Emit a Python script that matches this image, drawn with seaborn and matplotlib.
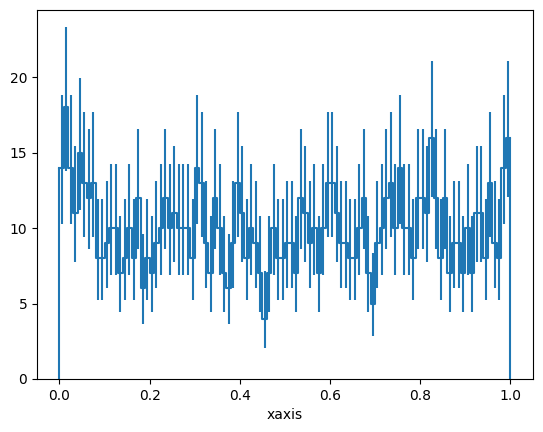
import math
import numpy as np
import pandas as pd
import seaborn as sns
from matplotlib import pyplot as plt

# 100 bins on [0, 1]; counts
n_bins = 100
x_range = (0.0, 1.0)
counts = [14, 18, 14, 11, 15, 13, 12, 13, 8, 8,
          9, 10, 10, 7, 8, 10, 8, 12, 6, 8,
          7, 9, 10, 12, 10, 11, 10, 10, 10, 8,
          14, 13, 9, 7, 12, 10, 7, 6, 9, 13,
          11, 8, 10, 9, 7, 4, 7, 10, 8, 8,
          9, 9, 7, 12, 11, 9, 10, 7, 10, 13,
          13, 11, 9, 9, 8, 8, 10, 12, 7, 5,
          9, 10, 12, 13, 10, 14, 10, 10, 8, 12,
          12, 11, 16, 12, 8, 12, 7, 9, 9, 7,
          10, 7, 11, 11, 8, 13, 9, 8, 14, 16]
x_label = "xaxis"


def pois_cdf(k, mu):
    if k < 0:
        return 0.0
    return sum(math.exp(-mu + j * math.log(mu) - math.lgamma(j + 1)) for j in range(k + 1))


def solve(f, lo, hi):
    # plain bisection, f increasing
    for _ in range(80):
        mid = 0.5 * (lo + hi)
        if f(mid) > 0:
            hi = mid
        else:
            lo = mid
    return 0.5 * (lo + hi)


def poisson_interval(n, a=0.158655):
    # central 68% Garwood interval
    if n == 0:
        low = 0.0
    else:
        low = solve(lambda mu: (1 - pois_cdf(n - 1, mu)) - a, 1e-9, n + 1)
    high = solve(lambda mu: a - pois_cdf(n, mu), n, n + 10 * math.sqrt(n + 1) + 10)
    return low, high


edges = np.linspace(x_range[0], x_range[1], n_bins + 1)
df = pd.DataFrame({"center": 0.5 * (edges[:-1] + edges[1:]), "count": counts})
bounds = [poisson_interval(n) for n in counts]
df["lo"] = [b[0] for b in bounds]
df["hi"] = [b[1] for b in bounds]

fig, ax = plt.subplots(figsize=(5.43, 4.32), dpi=100)
plt.subplots_adjust(left=0.068, right=0.9816, bottom=0.1227, top=0.978)

sns.histplot(data=df, x="center", weights="count", bins=n_bins, binrange=x_range,
             element="step", fill=False, color="C0", linewidth=1.5, ax=ax)
# close the outline down to zero at both ends
ax.vlines([edges[0], edges[-1]], 0, [counts[0], counts[-1]], color="C0", linewidth=1.5)
ax.errorbar(df["center"], df["count"],
            yerr=[df["count"] - df["lo"], df["hi"] - df["count"]],
            fmt="none", ecolor="C0", elinewidth=1.5)

ax.set_ylim(bottom=0)
ax.set_xlabel(x_label)
ax.set_ylabel("")
plt.savefig("out.png")
